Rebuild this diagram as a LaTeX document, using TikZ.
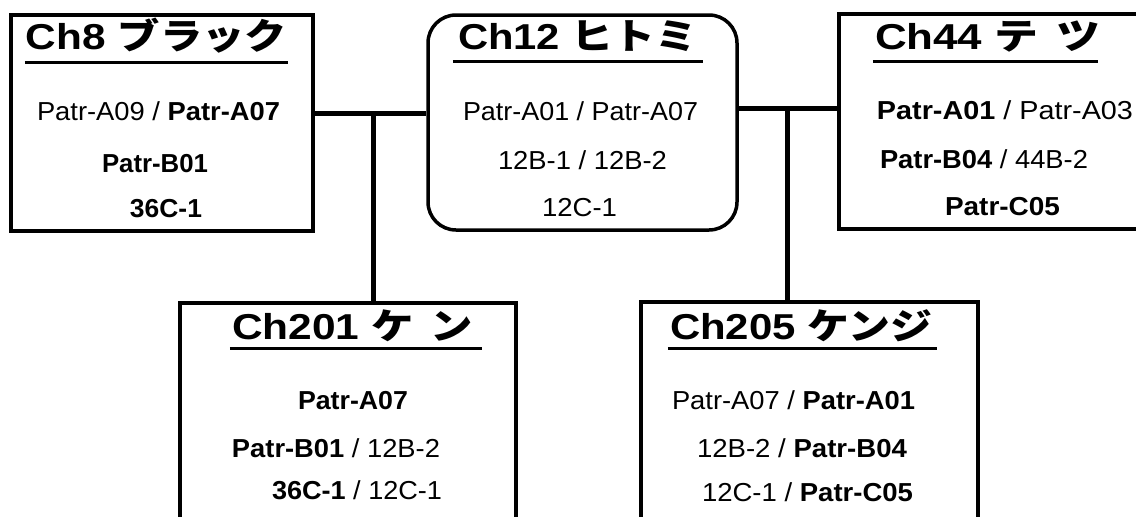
\documentclass[tikz,border=0pt]{standalone}
\usepackage{fontspec}
\usepackage{graphicx}
\setmainfont{Liberation Sans}
\newfontfamily\jp{Noto Sans CJK JP}
\newcommand{\fitline}[2]{\resizebox{#1pt}{\height}{#2}}
\begin{document}
\begin{tikzpicture}[x=1pt,y=-1pt,
  box/.style={draw, line width=4pt, inner sep=0pt},
  rbox/.style={box, line width=3.5pt, rounded corners=28pt},
  conn/.style={line width=5pt},
  ttl/.style={anchor=base, inner sep=0pt, font=\fontsize{36}{36}\selectfont\bfseries},
  txt/.style={anchor=base, inner sep=0pt, font=\fontsize{26}{26}\selectfont},
  uline/.style={line width=3pt}]
\clip (0,0) rectangle (1136,517);
\fill[white] (0,0) rectangle (1136,517);
% boxes
\node[box, minimum width=302pt, minimum height=216pt] (ch8) at (162,123) {};
\node[rbox, minimum width=309pt, minimum height=215pt] (ch12) at (582.5,122.5) {};
\node[box, minimum width=321pt, minimum height=215pt] (ch44) at (999.5,121.5) {};
\node[box, minimum width=336pt, minimum height=257pt] (ch201) at (348,431.5) {};
\node[box, minimum width=337pt, minimum height=258pt] (ch205) at (809.5,431) {};
% connectors
\coordinate (j1) at (373,113);
\coordinate (j2) at (787,108);
\draw[conn] (ch8.east |- j1) -- (ch12.west |- j1);
\draw[conn] (j1) -- (j1 |- ch201.north);
\draw[conn] (ch12.east |- j2) -- (ch44.west |- j2);
\draw[conn] (j2) -- (j2 |- ch205.north);
% titles
\node[ttl] (t8) at (156.5,49) {\fitline{261}{Ch8 {\jp ブラック}}};
\node[ttl] (t12) at (577.5,49) {\fitline{239}{Ch12 {\jp ヒトミ}}};
\node[ttl] (t44) at (987.5,49) {\fitline{225}{Ch44 {\jp テ\hspace{0.4em}ツ}}};
\node[ttl] (t201) at (352.5,339) {\fitline{241}{Ch201 {\jp ケ\hspace{0.4em}ン}}};
\node[ttl] (t205) at (801,339) {\fitline{262}{Ch205 {\jp ケンジ}}};
% underlines
\draw[uline] ([xshift=-1pt,yshift=-13pt]t8.base west) -- ([xshift=1pt,yshift=-13pt]t8.base east);
\draw[uline] ([xshift=-5pt,yshift=-12pt]t12.base west) -- ([xshift=6pt,yshift=-12pt]t12.base east);
\draw[uline] ([xshift=-2pt,yshift=-12pt]t44.base west) -- ([xshift=-2pt,yshift=-12pt]t44.base east);
\draw[uline] ([xshift=-2pt,yshift=-9pt]t201.base west) -- ([xshift=9pt,yshift=-9pt]t201.base east);
\draw[uline] ([xshift=-2pt,yshift=-9pt]t205.base west) -- ([xshift=5pt,yshift=-9pt]t205.base east);
% Ch8 lines
\node[txt] (a1) at (158.5,120) {\fitline{243}{Patr-A09 / \textbf{Patr-A07}}};
\node[txt] (a2) at (155,172) {\fitline{106}{\textbf{Patr-B01}}};
\node[txt] (a3) at (166,217) {\fitline{72}{\textbf{36C-1}}};
% Ch12 lines
\node[txt] (b1) at (580.5,120) {\fitline{235}{Patr-A01 / Patr-A07}};
\node[txt] (b2) at (582.5,169) {\fitline{169}{12B-1 / 12B-2}};
\node[txt] (b3) at (579.5,216) {\fitline{75}{12C-1}};
% Ch44 lines
\node[txt] (c1) at (1005,119) {\fitline{256}{\textbf{Patr-A01} / Patr-A03}};
\node[txt] (c2) at (984,168) {\fitline{208}{\textbf{Patr-B04} / 44B-2}};
\node[txt] (c3) at (1002.5,215) {\fitline{115}{\textbf{Patr-C05}}};
% Ch201 lines
\node[txt] (d1) at (353,409) {\fitline{110}{\textbf{Patr-A07}}};
\node[txt] (d2) at (336,457) {\fitline{208}{\textbf{Patr-B01} / 12B-2}};
\node[txt] (d3) at (357,499) {\fitline{170}{\textbf{36C-1} / 12C-1}};
% Ch205 lines
\node[txt] (e1) at (793.5,409) {\fitline{243}{Patr-A07 / \textbf{Patr-A01}}};
\node[txt] (e2) at (802,457) {\fitline{210}{12B-2 / \textbf{Patr-B04}}};
\node[txt] (e3) at (807.5,501) {\fitline{211}{12C-1 / \textbf{Patr-C05}}};
\end{tikzpicture}
\end{document}
